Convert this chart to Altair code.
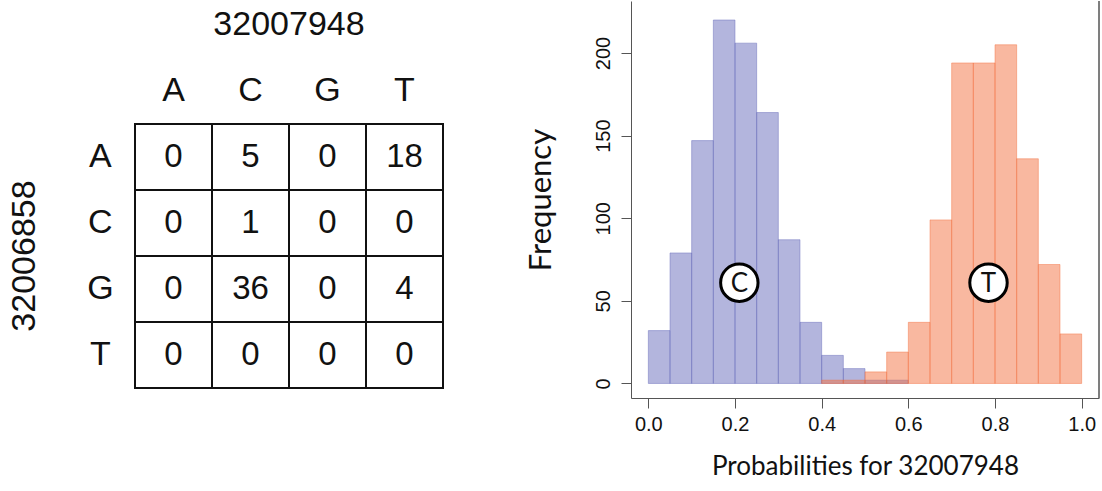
import altair as alt
import pandas as pd

# ---------------- data ----------------
# contingency table of alleles at two positions
col_title = "32007948"
row_title = "32006858"
bases = ["A", "C", "G", "T"]
counts = [
    [0, 5, 0, 18],
    [0, 1, 0, 0],
    [0, 36, 0, 4],
    [0, 0, 0, 0],
]

# histogram of probabilities for 32007948
bin_width = 0.05
c_bin_starts = [0.00, 0.05, 0.10, 0.15, 0.20, 0.25, 0.30, 0.35, 0.40, 0.45, 0.50, 0.55]
c_counts = [32, 79, 147, 220, 206, 164, 87, 37, 17, 9, 2, 2]
t_bin_starts = [0.40, 0.45, 0.50, 0.55, 0.60, 0.65, 0.70, 0.75, 0.80, 0.85, 0.90, 0.95]
t_counts = [2, 2, 7, 19, 37, 99, 194, 194, 205, 136, 72, 30]

marker_labels = ["C", "T"]
marker_x = [0.21, 0.785]
marker_y = [61, 61]

x_ticks = [0.0, 0.2, 0.4, 0.6, 0.8, 1.0]
y_ticks = [0, 50, 100, 150, 200]

# ---------------- layout constants ----------------
LEFT_W, H = 470, 397
GRID_LEFT, GRID_TOP, CELL_W, CELL_H = 135, 123, 77, 66
RIGHT_W = 468
AXIS_COLOR = "#555555"
BLUE, ORANGE = "#676bbb", "#f37141"
FONT = "Liberation Sans"
INK = "#111111"

# ---------------- left panel: table ----------------
cells = []
for i, r in enumerate(bases):
    for j, c in enumerate(bases):
        cells.append({"row": r, "col": c, "ri": i, "ci": j, "n": counts[i][j]})
cell_df = pd.DataFrame(cells)
base_df = pd.DataFrame({"base": bases, "idx": list(range(len(bases)))})
title_df = pd.DataFrame({"label": [col_title], "kind": ["top"]})
side_df = pd.DataFrame({"label": [row_title], "kind": ["side"]})

tx = alt.Scale(domain=[-GRID_LEFT / CELL_W, (LEFT_W - GRID_LEFT) / CELL_W], nice=False, zero=False)
ty = alt.Scale(domain=[-GRID_TOP / CELL_H, (H - GRID_TOP) / CELL_H], nice=False, zero=False, reverse=True)

rects = alt.Chart(cell_df).transform_calculate(
    ci2="datum.ci + 1", ri2="datum.ri + 1"
).mark_rect(fill="white", stroke=INK, strokeWidth=2).encode(
    x=alt.X("ci:Q", scale=tx, axis=None),
    x2="ci2:Q",
    y=alt.Y("ri:Q", scale=ty, axis=None),
    y2="ri2:Q",
)

nums = alt.Chart(cell_df).transform_calculate(
    cx="datum.ci + 0.5", cy="datum.ri + 0.5"
).mark_text(font=FONT, fontSize=33, color=INK, baseline="middle").encode(
    x=alt.X("cx:Q", scale=tx, axis=None),
    y=alt.Y("cy:Q", scale=ty, axis=None),
    text="n:Q",
)

col_heads = alt.Chart(base_df).transform_calculate(
    cx="datum.idx + 0.5", cy="-0.5"
).mark_text(font=FONT, fontSize=34, color=INK, baseline="middle").encode(
    x=alt.X("cx:Q", scale=tx, axis=None),
    y=alt.Y("cy:Q", scale=ty, axis=None),
    text="base:N",
)

row_heads = alt.Chart(base_df).transform_calculate(
    cx="-0.45", cy="datum.idx + 0.5"
).mark_text(font=FONT, fontSize=34, color=INK, baseline="middle").encode(
    x=alt.X("cx:Q", scale=tx, axis=None),
    y=alt.Y("cy:Q", scale=ty, axis=None),
    text="base:N",
)

top_title = alt.Chart(title_df).transform_calculate(
    cx="2", cy="-1.5"
).mark_text(font=FONT, fontSize=34, color=INK, baseline="middle").encode(
    x=alt.X("cx:Q", scale=tx, axis=None),
    y=alt.Y("cy:Q", scale=ty, axis=None),
    text="label:N",
)

side_title = alt.Chart(side_df).transform_calculate(
    cx="-1.43", cy="2"
).mark_text(font=FONT, fontSize=34, color=INK, baseline="middle", angle=270).encode(
    x=alt.X("cx:Q", scale=tx, axis=None),
    y=alt.Y("cy:Q", scale=ty, axis=None),
    text="label:N",
)

left = alt.layer(rects, nums, col_heads, row_heads, top_title, side_title).properties(width=LEFT_W, height=H)

# ---------------- right panel: histogram ----------------
c_df = pd.DataFrame({"start": c_bin_starts, "count": c_counts})
c_df["end"] = c_df["start"] + bin_width
c_df["base"] = 0
t_df = pd.DataFrame({"start": t_bin_starts, "count": t_counts})
t_df["end"] = t_df["start"] + bin_width
t_df["base"] = 0
m_df = pd.DataFrame({"label": marker_labels, "x": marker_x, "y": marker_y})

hx = alt.Scale(domain=[-0.04, 1.04], nice=False, zero=False)
hy = alt.Scale(domain=[-8.8, 231.5], nice=False, zero=False)

x_axis = alt.Axis(
    values=x_ticks, format=".1f", grid=False, domain=True, domainColor=AXIS_COLOR,
    tickColor=AXIS_COLOR, tickSize=10, labelFont=FONT, labelFontSize=20, labelColor=INK,
    labelPadding=6, title="Probabilities for 32007948", titleFont="Lato", titleFontSize=26,
    titleFontWeight="normal", titleColor=INK, titlePadding=19,
)
y_axis = alt.Axis(
    values=y_ticks, grid=False, domain=True, domainColor=AXIS_COLOR, tickColor=AXIS_COLOR,
    tickSize=10, labelAngle=270, labelFont=FONT, labelFontSize=20, labelColor=INK,
    labelPadding=8, title="Frequency", titleFont="Lato", titleFontSize=31,
    titleFontWeight="normal", titleColor=INK, titlePadding=36,
)

c_bars = alt.Chart(c_df).mark_rect(fill=BLUE, fillOpacity=0.5, stroke=BLUE, strokeOpacity=0.45, strokeWidth=1).encode(
    x=alt.X("start:Q", scale=hx, axis=x_axis),
    x2="end:Q",
    y=alt.Y("count:Q", scale=hy, axis=y_axis),
    y2="base:Q",
)
t_bars = alt.Chart(t_df).mark_rect(fill=ORANGE, fillOpacity=0.5, stroke=ORANGE, strokeOpacity=0.45, strokeWidth=1).encode(
    x=alt.X("start:Q", scale=hx),
    x2="end:Q",
    y=alt.Y("count:Q", scale=hy),
    y2="base:Q",
)
circles = alt.Chart(m_df).mark_circle(color="white", opacity=1, stroke="black", strokeWidth=3, size=1400).encode(
    x=alt.X("x:Q", scale=hx), y=alt.Y("y:Q", scale=hy)
)
letters = alt.Chart(m_df).mark_text(font="Lato", fontSize=26, color=INK, baseline="middle", dy=1).encode(
    x=alt.X("x:Q", scale=hx), y=alt.Y("y:Q", scale=hy), text="label:N"
)
right_edge = alt.Chart(m_df).mark_rule(color=AXIS_COLOR, strokeWidth=1).encode(
    x=alt.value(RIGHT_W), y=alt.value(0), y2=alt.value(H)
)

right = alt.layer(c_bars, t_bars, circles, letters, right_edge).properties(width=RIGHT_W, height=H)

chart = alt.hconcat(left, right, spacing=55).properties(
    padding={"left": 0, "top": 0, "right": 0, "bottom": 0}
).configure_view(stroke=None).configure_axis(grid=False)

chart.save("out.html", embed_options={"renderer": "svg", "actions": False})
